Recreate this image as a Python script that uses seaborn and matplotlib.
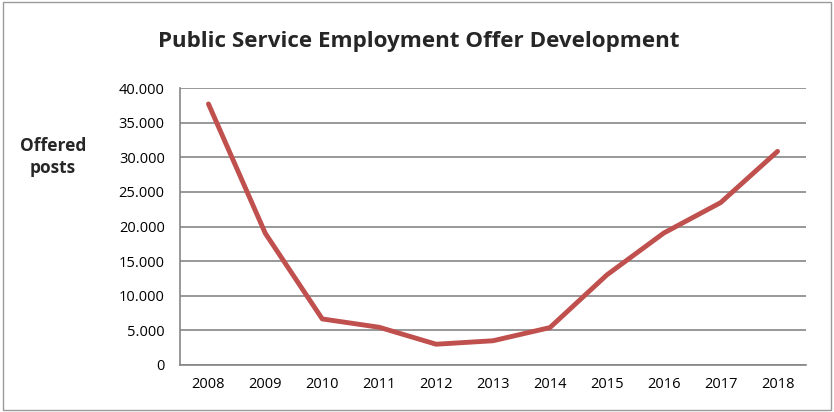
import matplotlib
matplotlib.use("Agg")
import matplotlib.pyplot as plt
import matplotlib.ticker as mticker
import pandas as pd
import seaborn as sns

# offered posts per year
years = ["2008", "2009", "2010", "2011", "2012", "2013",
         "2014", "2015", "2016", "2017", "2018"]
posts = [37700, 19000, 6650, 5450, 3000, 3500,
         5400, 13000, 19050, 23450, 30850]

df = pd.DataFrame({"pos": range(len(years)), "Year": years, "posts": posts})

sns.set_style("white")
plt.rcParams["font.family"] = ["Open Sans", "DejaVu Sans"]

fig = plt.figure(figsize=(8.34, 4.12), dpi=100)
ax = fig.add_axes([180 / 834, 1 - 365 / 412, 626 / 834, 277 / 412])

sns.lineplot(data=df, x="pos", y="posts", color="#C0504D", linewidth=3.5, ax=ax)

ax.set_xlim(-0.5, len(years) - 0.5)
ax.set_ylim(0, 40000)
ax.set_yticks(range(0, 40001, 5000))
ax.yaxis.set_major_formatter(
    mticker.FuncFormatter(lambda v, p: "0" if v == 0 else f"{int(v):,}".replace(",", ".")))
ax.set_xticks(df["pos"])
ax.set_xticklabels(years)
ax.set_xticks([i - 0.5 for i in range(len(years) + 1)], minor=True)
ax.tick_params(axis="x", which="major", length=0, pad=9, labelsize=10.5, colors="black")
ax.tick_params(axis="x", which="minor", length=5, width=1.2, color="#868686", direction="out")
ax.tick_params(axis="y", length=5, width=1.2, color="#868686", direction="out", pad=6,
               labelsize=10.5, labelcolor="black")

ax.grid(axis="y", color="#868686", linewidth=1.2)
ax.set_axisbelow(True)
for side in ["top", "right"]:
    ax.spines[side].set_visible(False)
for side in ["left", "bottom"]:
    ax.spines[side].set_color("#868686")
    ax.spines[side].set_linewidth(1.2)
ax.set_xlabel("")
ax.set_ylabel("")

fig.text(419 / 834, 1 - 41 / 412, "Public Service Employment Offer Development",
         ha="center", va="center", fontsize=16.1, fontweight="bold")
fig.text(53 / 834, 1 - 157 / 412, "Offered\nposts", ha="center", va="center",
         fontsize=12.5, fontweight="bold", linespacing=1.25)

# thin gray border around the whole chart
fig.patches.append(plt.Rectangle((0.003, 0.004), 0.994, 0.99, transform=fig.transFigure,
                                 fill=False, edgecolor="#9a9a9a", linewidth=1))

fig.savefig("out.png", dpi=100)
